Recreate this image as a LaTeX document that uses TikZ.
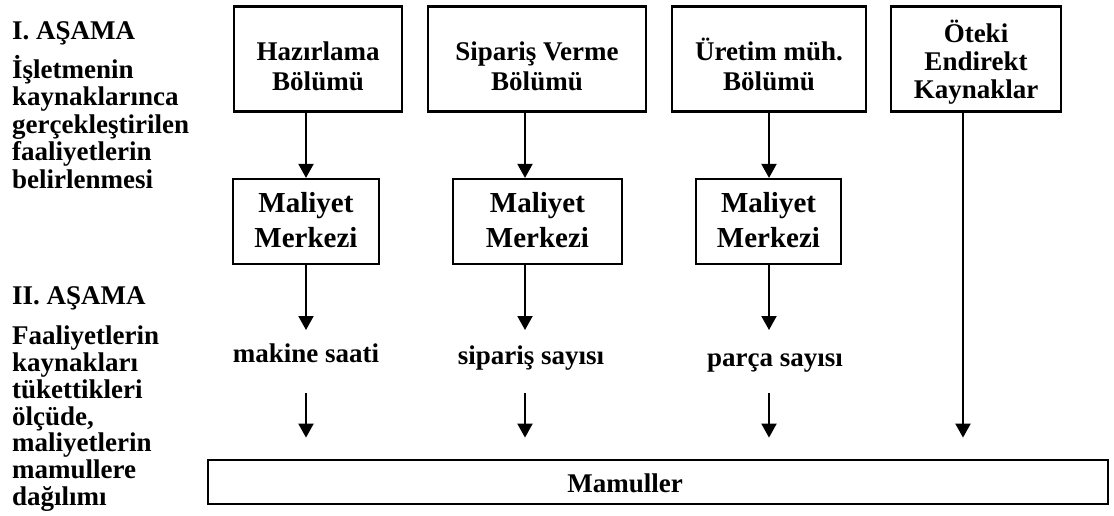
\documentclass[tikz,border=0pt]{standalone}
\usepackage{fontspec}
\setmainfont{Liberation Serif}
\usetikzlibrary{arrows.meta}
\begin{document}
\begin{tikzpicture}[x=1pt,y=-1pt,
  every node/.style={inner sep=0pt, font=\bfseries\fontsize{27}{30}\selectfont},
  topbox/.style={draw, line width=2.8pt, minimum width=#1, minimum height=105pt},
  costbox/.style={draw, line width=2.2pt, minimum width=#1, minimum height=85pt},
  boxtext/.style={align=center},
  costtext/.style={align=center, font=\bfseries\fontsize{29}{35}\selectfont},
  sidetext/.style={align=left, anchor=north west},
  arr/.style={line width=2pt, -{Triangle[width=15pt,length=14pt]}}]
\useasboundingbox (0,0) rectangle (1114,515);

% column axes of the connectors
\coordinate (c1) at (306,0);
\coordinate (c2) at (525,0);
\coordinate (c3) at (769,0);
\coordinate (c4) at (963,0);

% stage headings and descriptions
\node[anchor=base west] (h1) at (12,39) {I. AŞAMA};
\node[sidetext, font=\bfseries\fontsize{27}{27.5}\selectfont] (d1) at (12,55)
  {İşletmenin\\kaynaklarınca\\gerçekleştirilen\\faaliyetlerin\\belirlenmesi};
\node[anchor=base west] (h2) at (12,304) {II. AŞAMA};
\node[sidetext, font=\bfseries\fontsize{27}{26.7}\selectfont] (d2) at (12,326)
  {Faaliyetlerin\\kaynakları\\tükettikleri\\ölçüde,\\maliyetlerin\\mamullere\\dağılımı};

% resource boxes
\node[topbox=168] (b1) at (318,59) {};
\node[boxtext] (b1t) at (318,66) {Hazırlama\\Bölümü};
\node[topbox=218] (b2) at (537,59) {};
\node[boxtext] (b2t) at (537,66) {Sipariş Verme\\Bölümü};
\node[topbox=194] (b3) at (769,59) {};
\node[boxtext] (b3t) at (769,64) {Üretim müh.\\Bölümü};
\node[topbox=170] (b4) at (976,59) {};
\node[boxtext, font=\bfseries\fontsize{27}{28}\selectfont] (b4t) at (976,62) {Öteki\\Endirekt\\Kaynaklar};

% cost centres
\node[costbox=146] (m1) at (306,221.5) {};
\node[costtext] (m1t) at (306,220) {Maliyet\\Merkezi};
\node[costbox=169] (m2) at (537.5,221.5) {};
\node[costtext] (m2t) at (537.5,220) {Maliyet\\Merkezi};
\node[costbox=145] (m3) at (768.5,221.5) {};
\node[costtext] (m3t) at (768.5,220) {Maliyet\\Merkezi};

% cost drivers
\node[anchor=base] (l1) at (306,362) {makine saati};
\node[anchor=base] (l2) at (531,364) {sipariş sayısı};
\node[anchor=base] (l3) at (775,366) {parça sayısı};

% products
\node[draw, line width=2.8pt, minimum width=900pt, minimum height=44pt] (mam) at (658,482) {};
\node (mamt) at (625,483) {Mamuller};

% arrow ends around the driver labels
\coordinate (k1) at (306,330);
\coordinate (k2) at (525,330);
\coordinate (k3) at (769,330);
\coordinate (j1) at (306,393);
\coordinate (j2) at (525,393);
\coordinate (j3) at (769,393);

% connectors
\draw[arr] (b1.south -| c1) -- (m1.north -| c1);
\draw[arr] (b2.south -| c2) -- (m2.north -| c2);
\draw[arr] (b3.south -| c3) -- (m3.north -| c3);
\draw[arr] (m1.south -| c1) -- (k1);
\draw[arr] (m2.south -| c2) -- (k2);
\draw[arr] (m3.south -| c3) -- (k3);
\draw[arr, shorten >=21pt] (j1) -- (j1 |- mam.north);
\draw[arr, shorten >=21pt] (j2) -- (j2 |- mam.north);
\draw[arr, shorten >=21pt] (j3) -- (j3 |- mam.north);
\draw[arr, shorten >=21pt] (b4.south -| c4) -- (c4 |- mam.north);
\end{tikzpicture}
\end{document}
